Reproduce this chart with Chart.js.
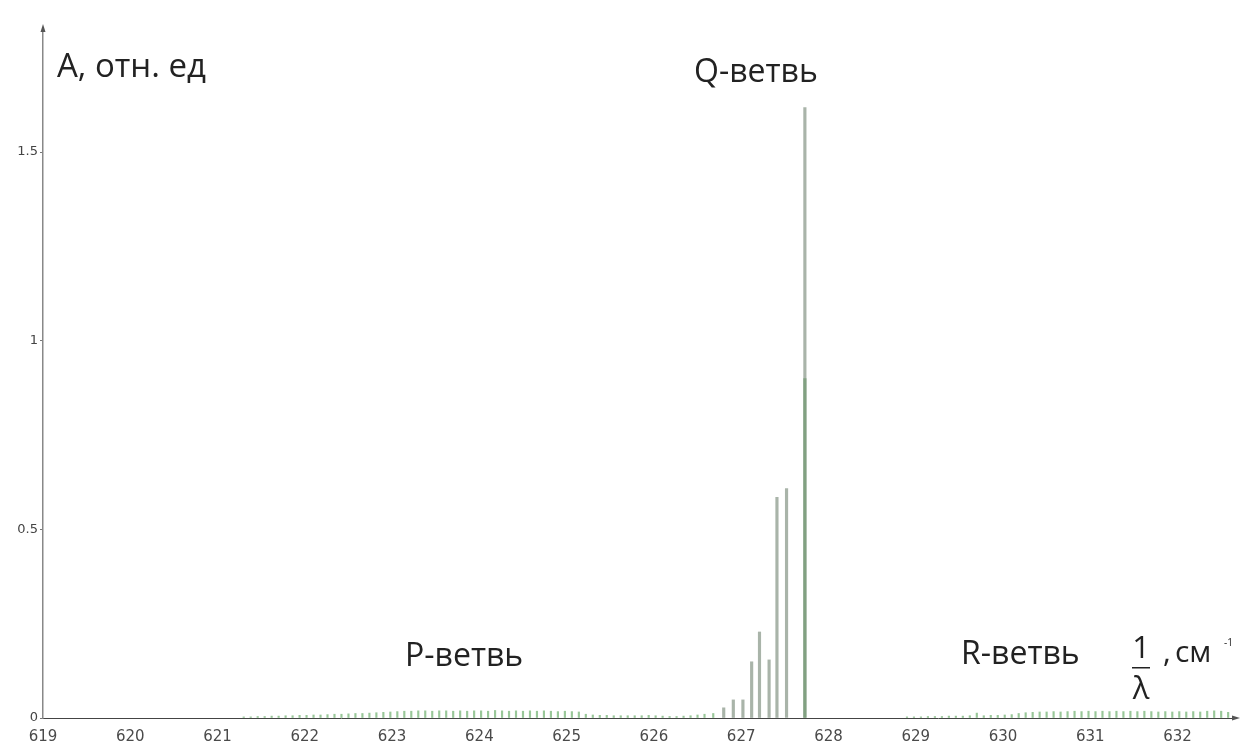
<!DOCTYPE html>
<html>
<head>
<meta charset="utf-8">
<script src="https://cdn.jsdelivr.net/npm/chart.js@4/dist/chart.umd.min.js"></script>
<style>
  body { margin: 0; background: #fff; }
  #wrap { width: 1242px; height: 744px; position: relative; }
</style>
</head>
<body>
<div id="wrap"><canvas id="spectrum"></canvas></div>
<script>
// wavenumbers, 1/λ (см-1), and relative line intensities
const pBranchNu = [621.30, 621.38, 621.46, 621.54, 621.62, 621.70, 621.78, 621.86, 621.94, 622.02,
  622.10, 622.18, 622.26, 622.34, 622.42, 622.50, 622.58, 622.66, 622.74, 622.82,
  622.90, 622.98, 623.06, 623.14, 623.22, 623.30, 623.38, 623.46, 623.54, 623.62,
  623.70, 623.78, 623.86, 623.94, 624.02, 624.10, 624.18, 624.26, 624.34, 624.42,
  624.50, 624.58, 624.66, 624.74, 624.82, 624.90, 624.98, 625.06, 625.14, 625.22,
  625.30, 625.38, 625.46, 625.54, 625.62, 625.70, 625.78, 625.86, 625.94, 626.02,
  626.10, 626.18, 626.26, 626.34, 626.42, 626.50, 626.58, 626.68];
const pBranchA = [0.003, 0.003, 0.004, 0.004, 0.005, 0.005, 0.006, 0.006, 0.007, 0.007,
  0.008, 0.008, 0.009, 0.010, 0.010, 0.011, 0.012, 0.012, 0.013, 0.014,
  0.015, 0.016, 0.017, 0.018, 0.018, 0.019, 0.019, 0.018, 0.019, 0.019,
  0.018, 0.019, 0.018, 0.019, 0.019, 0.018, 0.020, 0.019, 0.018, 0.019,
  0.018, 0.019, 0.018, 0.019, 0.018, 0.017, 0.018, 0.017, 0.016, 0.010,
  0.008, 0.007, 0.007, 0.006, 0.006, 0.006, 0.006, 0.006, 0.007, 0.006,
  0.005, 0.004, 0.004, 0.005, 0.006, 0.008, 0.010, 0.012];

const qBranchNu = [626.80, 626.91, 627.02, 627.12, 627.21, 627.32, 627.41, 627.52, 627.73];
const qBranchA = [0.027, 0.048, 0.048, 0.149, 0.228, 0.154, 0.585, 0.608, 1.618];
// lower (green) part of the strongest Q line
const qCoreNu = [627.73];
const qCoreA = [0.9];

const rBranchNu = [628.90, 628.98, 629.06, 629.14, 629.22, 629.30, 629.38, 629.46, 629.54, 629.62,
  629.70, 629.78, 629.86, 629.94, 630.02, 630.10, 630.18, 630.26, 630.34, 630.42,
  630.50, 630.58, 630.66, 630.74, 630.82, 630.90, 630.98, 631.06, 631.14, 631.22,
  631.30, 631.38, 631.46, 631.54, 631.62, 631.70, 631.78, 631.86, 631.94, 632.02,
  632.10, 632.18, 632.26, 632.34, 632.42, 632.50, 632.58];
const rBranchA = [0.003, 0.003, 0.003, 0.004, 0.004, 0.004, 0.005, 0.005, 0.005, 0.006,
  0.013, 0.006, 0.007, 0.007, 0.008, 0.009, 0.012, 0.014, 0.015, 0.016,
  0.016, 0.017, 0.016, 0.017, 0.018, 0.017, 0.018, 0.017, 0.018, 0.017,
  0.018, 0.017, 0.018, 0.017, 0.018, 0.017, 0.016, 0.017, 0.016, 0.017,
  0.016, 0.017, 0.016, 0.018, 0.019, 0.018, 0.015];

const xTicks = [619, 620, 621, 622, 623, 624, 625, 626, 627, 628, 629, 630, 631, 632];
const yTicks = [0, 0.5, 1, 1.5];

const toPoints = (nu, a) => nu.map((v, i) => ({ x: v, y: a[i] }));

// captions, axis arrows and the 1/λ unit label
const captions = {
  id: 'captions',
  afterDraw(chart) {
    const ctx = chart.ctx;
    const area = chart.chartArea;
    ctx.save();

    // arrow heads
    ctx.fillStyle = '#555';
    ctx.beginPath();
    ctx.moveTo(area.left, area.top - 4);
    ctx.lineTo(area.left - 2.5, area.top + 4);
    ctx.lineTo(area.left + 2.5, area.top + 4);
    ctx.fill();
    ctx.beginPath();
    ctx.moveTo(area.right + 4, area.bottom);
    ctx.lineTo(area.right - 4, area.bottom - 2.5);
    ctx.lineTo(area.right - 4, area.bottom + 2.5);
    ctx.fill();

    ctx.fillStyle = '#222';
    ctx.textBaseline = 'alphabetic';
    ctx.textAlign = 'left';
    ctx.font = '33px "Open Sans"';
    ctx.fillText('A, отн. ед', 57, 77);
    ctx.font = '32px "Open Sans"';
    ctx.fillText('Q-ветвь', 694, 82);
    ctx.fillText('P-ветвь', 405, 666);
    ctx.fillText('R-ветвь', 961, 664);

    // 1/λ , см-1
    ctx.textAlign = 'center';
    ctx.font = '31px "Open Sans"';
    ctx.fillText('1', 1141, 658);
    ctx.fillText('λ', 1141, 699);
    ctx.fillRect(1132, 667, 18, 1.5);
    ctx.textAlign = 'left';
    ctx.font = '30px "Open Sans"';
    ctx.fillText(',', 1163, 662);
    ctx.fillText('см', 1175, 662);
    ctx.font = '10px "Open Sans"';
    ctx.fillText('-1', 1224, 646);
    ctx.restore();
  }
};

const smallColor = 'rgba(110, 175, 110, 0.7)';

new Chart(document.getElementById('spectrum'), {
  type: 'bar',
  data: {
    datasets: [
      { label: 'Q core', data: toPoints(qCoreNu, qCoreA), backgroundColor: 'rgba(125, 160, 125, 0.9)', barThickness: 2.5, grouped: false, order: 0 },
      { label: 'Q', data: toPoints(qBranchNu, qBranchA), backgroundColor: 'rgba(160, 172, 160, 0.9)', barThickness: 2.5, grouped: false, order: 1 },
      { label: 'P', data: toPoints(pBranchNu, pBranchA), backgroundColor: smallColor, barThickness: 1.5, grouped: false, order: 1 },
      { label: 'R', data: toPoints(rBranchNu, rBranchA), backgroundColor: smallColor, barThickness: 1.5, grouped: false, order: 1 }
    ]
  },
  options: {
    responsive: true,
    maintainAspectRatio: false,
    animation: false,
    layout: { padding: { top: 28, right: 6, left: 0, bottom: 0 } },
    plugins: { legend: { display: false }, tooltip: { enabled: false } },
    scales: {
      x: {
        type: 'linear',
        min: 619,
        max: 632.67,
        offset: false,
        grid: { display: false, offset: false },
        border: { display: true, color: '#444', width: 1 },
        afterBuildTicks: (scale) => { scale.ticks = xTicks.map(v => ({ value: v })); },
        afterFit: (scale) => { scale.height = 26; },
        ticks: {
          padding: 2,
          color: '#4a4a4a',
          font: { family: 'DejaVu Sans', size: 15 },
          maxRotation: 0,
          autoSkip: false
        }
      },
      y: {
        min: 0,
        max: 1.829,
        grid: { display: true, drawOnChartArea: false, drawTicks: true, tickLength: 3, color: '#777' },
        border: { display: true, color: '#888', width: 1.5 },
        afterBuildTicks: (scale) => { scale.ticks = yTicks.map(v => ({ value: v })); },
        afterFit: (scale) => { scale.width = 43; },
        ticks: {
          padding: 2,
          color: '#444',
          font: { family: 'DejaVu Sans', size: 13 },
          callback: (v) => String(v)
        }
      }
    }
  },
  plugins: [captions]
});
</script>
</body>
</html>
